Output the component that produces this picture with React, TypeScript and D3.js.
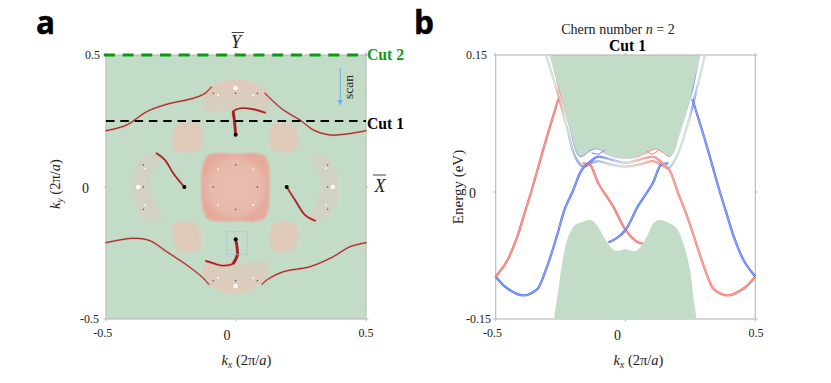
import React from 'react'
import * as d3 from 'd3'

type P = [number, number]

// panel a: contours in (kx, ky)
const topArcLeft: P[] = [[-0.5, 0.2133], [-0.4204, 0.2348], [-0.3435, 0.2852], [-0.2665, 0.3133], [-0.1642, 0.336], [-0.1192, 0.3549], [-0.095, 0.378]]
const topArcRight: P[] = [[0.1115, 0.3549], [0.1308, 0.336], [0.182, 0.2917], [0.2462, 0.2538], [0.2973, 0.2159], [0.3615, 0.197], [0.4258, 0.2008], [0.5, 0.2133]]
const bottomArcLeft: P[] = [[-0.5, -0.211], [-0.395, -0.1943], [-0.3308, -0.2034], [-0.2665, -0.2451], [-0.1896, -0.2955], [-0.1319, -0.3398], [-0.105, -0.368]]
const bottomArcRight: P[] = [[0.1, -0.368], [0.1242, -0.3485], [0.182, -0.3208], [0.2846, -0.3019], [0.3742, -0.264], [0.4385, -0.2261], [0.5, -0.211]]

const fermiTop: P[] = [[-0.0013, 0.198], [-0.0065, 0.2538], [-0.0104, 0.2852], [0.0154, 0.298], [0.0667, 0.2943], [0.1115, 0.2814]]
const fermiTopStem: P[] = [[-0.0013, 0.198], [-0.0065, 0.2538], [-0.0104, 0.2852]]
const fermiBottom: P[] = [[-0.0013, -0.1981], [0.005, -0.2576], [-0.0104, -0.289], [-0.0488, -0.298], [-0.0873, -0.289], [-0.1154, -0.2803]]
const fermiBottomStem: P[] = [[-0.0013, -0.1981], [0.005, -0.2576], [-0.0104, -0.289]]
const fermiLeft: P[] = [[-0.1988, 0], [-0.2412, 0.0519], [-0.2731, 0.1023], [-0.305, 0.1276]]
const fermiRight: P[] = [[0.195, 0], [0.2269, -0.0492], [0.2654, -0.106], [0.3038, -0.1276]]

const capTop: P[] = [[-0.1258, 0.336], [-0.1065, 0.3739], [-0.055, 0.3989], [-0.0013, 0.4053], [0.0538, 0.3989], [0.1051, 0.3739], [0.1308, 0.3295], [0.1181, 0.2792], [0.0538, 0.287], [-0.0013, 0.295], [-0.0615, 0.283], [-0.1127, 0.283]]
const capBottom: P[] = [[-0.1296, -0.3144], [-0.1127, -0.281], [-0.0488, -0.285], [0.0154, -0.287], [0.0667, -0.2805], [0.1181, -0.281], [0.1242, -0.3333], [0.0923, -0.3712], [0.0412, -0.3966], [-0.0013, -0.4053], [-0.0488, -0.3966], [-0.1, -0.3712]]
const crescentLeft: P[] = [[-0.3115, 0.1299], [-0.3565, 0.1148], [-0.3885, 0.0644], [-0.4012, 0], [-0.3819, -0.0746], [-0.3435, -0.1276], [-0.2858, -0.1223], [-0.3115, -0.0617], [-0.3308, 0], [-0.3181, 0.0644], [-0.2858, 0.1148]]
const crescentRight: P[] = [[0.2873, 0.1212], [0.3231, 0.1276], [0.3742, 0.0898], [0.3962, 0], [0.3873, -0.0682], [0.3554, -0.1125], [0.3104, -0.1276], [0.2719, -0.1186], [0.3104, -0.0617], [0.3258, 0], [0.3167, 0.0644]]
const centerPatch: P[] = [[-0.1258, 0.0898], [-0.1065, 0.1212], [-0.0013, 0.1276], [0.1051, 0.1212], [0.1242, 0.0898], [0.128, 0], [0.1242, -0.0871], [0.1051, -0.1223], [-0.0013, -0.1288], [-0.1065, -0.1223], [-0.1258, -0.0871], [-0.1335, 0]]
const squareTL: P[] = [[-0.2281, 0.2348], [-0.1385, 0.2386], [-0.1319, 0.1527], [-0.145, 0.1375], [-0.2281, 0.1337], [-0.2412, 0.1466]]
const squareTR: P[] = [[0.1373, 0.2348], [0.2204, 0.2348], [0.2396, 0.1655], [0.2204, 0.1375], [0.1435, 0.1375], [0.1335, 0.1527]]
const squareBL: P[] = [[-0.2346, -0.1375], [-0.1512, -0.1375], [-0.1346, -0.1883], [-0.1385, -0.2386], [-0.2219, -0.2386], [-0.2435, -0.1883]]
const squareBR: P[] = [[0.1435, -0.1375], [0.2269, -0.1375], [0.2396, -0.1883], [0.2204, -0.2386], [0.1435, -0.2424], [0.1308, -0.1943]]

const weylPoints: P[] = [[-0.0013, 0.198], [-0.0013, -0.1981], [-0.1988, 0], [0.195, 0]]
const whiteDots: P[] = [[-0.0013, 0.3739], [-0.0013, -0.375], [-0.3758, 0], [0.372, 0]]
const tinyBlack: P[] = [[-0.0873, 0], [0.0821, 0], [-0.0013, 0.0833], [-0.0013, -0.0845], [-0.0873, 0.355], [-0.0013, 0.355], [0.0821, 0.355], [-0.0873, -0.355], [-0.0013, -0.355], [0.0821, -0.355], [-0.3565, 0.0833], [-0.3565, 0], [-0.3565, -0.0845], [0.3527, 0.0833], [0.3527, 0], [0.3527, -0.0845]]
const tinyWhite: P[] = [[-0.0704, 0.067], [0.0667, 0.067], [-0.0704, -0.068], [0.0667, -0.068], [-0.0681, 0.3485], [0.0667, 0.3485], [-0.068, -0.3447], [0.0667, -0.3447], [-0.35, 0.0708], [-0.35, -0.068], [0.3462, 0.0708], [0.3462, -0.068]]

// panel b: bands in (kx, E)
const redLeft: P[] = [[-0.5, -0.0998], [-0.4576, -0.0821], [-0.4191, -0.0545], [-0.3871, -0.0232], [-0.3613, 0.0022], [-0.3101, 0.0533], [-0.2588, 0.1018]]
const blueRight: P[] = [[0.2573, 0.1018], [0.3101, 0.0533], [0.3613, 0.0022], [0.3871, -0.0232], [0.4191, -0.0545], [0.4576, -0.0821], [0.5, -0.0998]]
const mainBand: P[] = [[-0.5, -0.0998], [-0.4576, -0.1134], [-0.3937, -0.1222], [-0.3421, -0.1154], [-0.3293, -0.1096], [-0.2974, -0.084], [-0.265, -0.0527], [-0.233, -0.0192], [-0.2011, 0.0022], [-0.1687, 0.0241], [-0.1367, 0.0332], [-0.1048, 0.0387], [-0.055, 0.0355], [0, 0.0321], [0.055, 0.0355], [0.1048, 0.0387], [0.1367, 0.0332], [0.1687, 0.0241], [0.2011, 0.0], [0.2355, -0.027], [0.2662, -0.055], [0.298, -0.0845], [0.3293, -0.1096], [0.3421, -0.1154], [0.3937, -0.1222], [0.4576, -0.1134], [0.5, -0.0998]]
const redCross: P[] = [[-0.165, 0.0314], [-0.1367, 0.0296], [-0.1048, 0.0095], [-0.047, -0.0173], [0, -0.0448], [0.043, -0.0585], [0.0686, -0.0613]]
const blueCross: P[] = [[-0.0663, -0.0597], [-0.0339, -0.0545], [0, -0.0448], [0.047, -0.0173], [0.1048, 0.0095], [0.1367, 0.0296], [0.165, 0.0314]]
const conductionLow: P[] = [[-0.3063, 0.15], [-0.265, 0.1117], [-0.2265, 0.0715], [-0.1945, 0.0387], [-0.1626, 0.0277], [-0.1367, 0.0314], [-0.1048, 0.0339], [-0.0597, 0.0303], [0, 0.0277], [0.0623, 0.0307], [0.107, 0.0339], [0.1395, 0.0296], [0.165, 0.026], [0.197, 0.0387], [0.2292, 0.0643], [0.2677, 0.1044], [0.3063, 0.15]]
const bumpLeft: P[] = [[-0.1303, 0.043], [-0.1048, 0.0416], [-0.079, 0.046]]
const bumpRight: P[] = [[0.0817, 0.0452], [0.1009, 0.0416], [0.1264, 0.0452]]
const upperBulk: P[] = [[-0.2908, 0.15], [-0.2587, 0.1153], [-0.2203, 0.0752], [-0.1753, 0.0387], [-0.1367, 0.0452], [-0.1048, 0.0471], [-0.079, 0.0424], [-0.0405, 0.038], [0, 0.0369], [0.043, 0.038], [0.0817, 0.043], [0.1136, 0.0471], [0.1395, 0.0441], [0.1714, 0.0387], [0.2165, 0.0715], [0.255, 0.108], [0.287, 0.15]]
const lowerBulk: P[] = [[-0.2754, -0.15], [-0.2587, -0.1154], [-0.2396, -0.0762], [-0.2203, -0.0527], [-0.1945, -0.0389], [-0.1626, -0.035], [-0.134, -0.033], [-0.111, -0.0389], [-0.0724, -0.0585], [-0.0405, -0.0691], [0, -0.0675], [0.043, -0.0691], [0.0817, -0.0527], [0.107, -0.0369], [0.13, -0.033], [0.165, -0.0362], [0.197, -0.0428], [0.2227, -0.0604], [0.2485, -0.0919], [0.261, -0.1233], [0.2743, -0.15]]

const kTicks = [-0.5, 0, 0.5]
const kyTicks = [-0.5, 0, 0.5]
const eTicks = [-0.15, 0, 0.15]

const RED = '#ef6a62'
const BLUE = '#4f70f2'
const PALE = '#c6d9ce'
const mainStops: [number, string][] = [[-0.5, BLUE], [-0.1, BLUE], [-0.04, '#a9b8e0'], [0.02, '#cfc9cc'], [0.08, '#ee8880'], [0.5, RED]]
const conductionStops: [number, string][] = [[-0.31, PALE], [-0.27, PALE], [-0.255, '#e98b80'], [-0.23, PALE], [-0.19, '#8fa3e0'], [-0.15, '#6e85ea'], [-0.1, '#9db0e6'], [-0.04, '#c5d0dc'], [0.03, '#d8c8c0'], [0.08, '#ee9a90'], [0.14, '#ee8a80'], [0.175, '#b8c0d8'], [0.2, PALE], [0.245, PALE], [0.26, '#6f8bec'], [0.28, PALE]]

const GREEN = '#c3dcc7'
const AXIS = '#bdbdbd'
const SERIF = '"Liberation Serif", serif'

const xA = d3.scaleLinear().domain([-0.5, 0.5]).range([106, 366])
const yA = d3.scaleLinear().domain([-0.5, 0, 0.5]).range([319, 187, 55])
const xB = d3.scaleLinear().domain([-0.5, 0.5]).range([495.7, 755.3])
const yB = d3.scaleLinear().domain([-0.15, 0, 0.15]).range([319, 192, 55])

const arcLine = d3.line<P>().x(d => xA(d[0])).y(d => yA(d[1])).curve(d3.curveCatmullRom)
const patchLine = d3.line<P>().x(d => xA(d[0])).y(d => yA(d[1])).curve(d3.curveCatmullRomClosed)
const bandLine = d3.line<P>().x(d => xB(d[0])).y(d => yB(d[1])).curve(d3.curveCatmullRom)
const upperArea = d3.area<P>().x(d => xB(d[0])).y0(yB(0.15)).y1(d => yB(d[1])).curve(d3.curveCatmullRom)
const lowerArea = d3.area<P>().x(d => xB(d[0])).y0(yB(-0.15)).y1(d => yB(d[1])).curve(d3.curveCatmullRom)

const Gradient = ({ id, stops }: { id: string; stops: [number, string][] }) => (
  <linearGradient id={id} gradientUnits="userSpaceOnUse" x1={xB(-0.5)} x2={xB(0.5)} y1={0} y2={0}>
    {stops.map(([k, c], i) => <stop key={i} offset={k + 0.5} stopColor={c} />)}
  </linearGradient>
)

// paired strands: a coloured line with a pale core
const Band = ({ pts, stroke }: { pts: P[]; stroke: string }) => (
  <g fill="none">
    <path d={bandLine(pts)!} stroke={stroke} strokeWidth={2.3} />
    <path d={bandLine(pts)!} stroke="#fff" strokeOpacity={0.7} strokeWidth={0.6} />
  </g>
)

const Arc = ({ pts, w = 1 }: { pts: P[]; w?: number }) => (
  <g fill="none" strokeLinecap="round">
    <path d={arcLine(pts)!} stroke="#dd5a4c" strokeOpacity={0.55} strokeWidth={w + 1} />
    <path d={arcLine(pts)!} stroke="#9e1c22" strokeWidth={w} />
  </g>
)

const Frame = ({ x, y, yTicks, xPos, yLeft }: { x: any; y: any; yTicks: number[]; xPos: number[]; yLeft: number[] }) => {
  const [x0, x1] = x.range()
  const y0 = y(y.domain()[0])
  const y1 = y(y.domain()[2])
  return (
    <g>
      <rect x={x0} y={y1} width={x1 - x0} height={y0 - y1} fill="none" stroke={AXIS} strokeWidth={1.2} />
      {kTicks.map((t, i) => (
        <g key={t}>
          <line x1={x(t)} x2={x(t)} y1={y0} y2={y0 + 2.5} stroke={AXIS} />
          <line x1={x(t)} x2={x(t)} y1={y1} y2={y1 - 2.5} stroke={AXIS} />
          <text x={xPos[i]} y={t === 0 ? y0 + 20.5 : y0 + 18} textAnchor="middle" fontSize={t === 0 ? 14 : 12}>
            {t === 0 ? '0' : String(t)}
          </text>
        </g>
      ))}
      {yTicks.map((t, i) => (
        <g key={t}>
          <line x1={x0 - 2.5} x2={x0} y1={y(t)} y2={y(t)} stroke={AXIS} />
          <line x1={x1} x2={x1 + 2.5} y1={y(t)} y2={y(t)} stroke={AXIS} />
          <text x={yLeft[i]} y={y(t) + (t === 0 ? 6 : 4)} fontSize={t === 0 ? 14 : 12}>{String(t)}</text>
        </g>
      ))}
    </g>
  )
}

const KxLabel = ({ x }: { x: number }) => (
  <text x={x} y={365} textAnchor="middle" fontSize={14.5}>
    <tspan fontStyle="italic">k</tspan>
    <tspan fontStyle="italic" fontSize={9.5} dy={3}>x</tspan>
    <tspan dy={-3}> (2π/</tspan>
    <tspan fontStyle="italic">a</tspan>
    <tspan>)</tspan>
  </text>
)

export default function App() {
  const patches = [squareTL, squareTR, squareBL, squareBR]
  return (
    <svg width={831} height={383} style={{ position: 'absolute', left: 0, top: 0, background: '#fff' }} fontFamily={SERIF} fill="#222">
      <defs>
        <filter id="soft" x="-10%" y="-10%" width="120%" height="120%"><feGaussianBlur stdDeviation={1.2} /></filter>
        <filter id="softer" x="-10%" y="-10%" width="120%" height="120%"><feGaussianBlur stdDeviation={0.35} /></filter>
        <radialGradient id="centerFill">
          <stop offset="0%" stopColor="#e6bdb0" />
          <stop offset="75%" stopColor="#e7b9aa" />
          <stop offset="100%" stopColor="#e6a99a" />
        </radialGradient>
        <linearGradient id="capTopFill" x1="0" x2="0" y1="0" y2="1">
          <stop offset="0%" stopColor="#e3c9b9" />
          <stop offset="100%" stopColor="#d3d0bf" />
        </linearGradient>
        <linearGradient id="capBottomFill" x1="0" x2="0" y1="1" y2="0">
          <stop offset="0%" stopColor="#e3c9b9" />
          <stop offset="100%" stopColor="#d3d0bf" />
        </linearGradient>
        <Gradient id="mainGrad" stops={mainStops} />
        <Gradient id="condGrad" stops={conductionStops} />
      </defs>

      <text x={36} y={34} fontFamily='"Open Sans", sans-serif' fontWeight={700} fontSize={31.5} stroke="#000" strokeWidth={0.5} fill="#000">a</text>
      <text x={414} y={34} fontFamily='"Open Sans", sans-serif' fontWeight={700} fontSize={31.5} stroke="#000" strokeWidth={0.5} fill="#000">b</text>

      {/* panel a */}
      <rect x={xA(-0.5)} y={yA(0.5)} width={xA(0.5) - xA(-0.5)} height={yA(-0.5) - yA(0.5)} fill={GREEN} />
      <g filter="url(#soft)">
        <path d={patchLine(centerPatch)!} fill="url(#centerFill)" />
        {patches.map((p, i) => <path key={i} d={patchLine(p)!} fill="#dfcaba" />)}
        <path d={patchLine(capTop)!} fill="url(#capTopFill)" />
        <path d={patchLine(capBottom)!} fill="url(#capBottomFill)" />
        <path d={patchLine(crescentLeft)!} fill="#d2d2c2" />
        <path d={patchLine(crescentRight)!} fill="#d2d2c2" />
      </g>
      <Frame x={xA} y={yA} yTicks={kyTicks} xPos={[102.7, 227, 366]} yLeft={[80, 82, 85]} />
      <g filter="url(#softer)">
        <Arc pts={topArcLeft} />
        <Arc pts={topArcRight} />
        <Arc pts={bottomArcLeft} />
        <Arc pts={bottomArcRight} />
        <Arc pts={fermiTop} w={1.4} />
        <Arc pts={fermiTopStem} w={2.4} />
        <Arc pts={fermiBottom} w={1.4} />
        <Arc pts={fermiBottomStem} w={2.4} />
        <Arc pts={fermiLeft} w={1.4} />
        <Arc pts={fermiRight} w={1.4} />
      </g>
      {tinyBlack.map(([k, v], i) => <circle key={i} cx={xA(k)} cy={yA(v)} r={0.7} fill="#444" />)}
      {tinyWhite.map(([k, v], i) => <circle key={i} cx={xA(k)} cy={yA(v)} r={0.9} fill="#fff" />)}
      {whiteDots.map(([k, v], i) => <circle key={i} cx={xA(k)} cy={yA(v)} r={2.2} fill="#fff" />)}
      {weylPoints.map(([k, v], i) => <circle key={i} cx={xA(k)} cy={yA(v)} r={2} fill="#000" />)}

      <rect x={xA(-0.0358)} y={yA(-0.169)} width={xA(0.0435) - xA(-0.0358)} height={yA(-0.255) - yA(-0.169)} fill="none" stroke="#9cc3e8" strokeDasharray="2 1.5" />
      <line x1={xA(-0.5)} x2={xA(0.5)} y1={yA(0.25)} y2={yA(0.25)} stroke="#000" strokeWidth={1.8} strokeDasharray="8.5 5.8" />
      <line x1={xA(-0.508)} x2={xA(0.5)} y1={yA(0.5)} y2={yA(0.5)} stroke="#0c9a16" strokeWidth={3} strokeDasharray="11 7.7" />

      <line x1={340.3} x2={340.3} y1={68} y2={102} stroke="#6fb0e0" />
      <path d="M337.6 100 L343 100 L340.3 105.5 Z" fill="#6fb0e0" />
      <text transform="translate(353,87) rotate(-90)" textAnchor="middle" fontSize={13.5}>scan</text>

      <text x={367} y={59.5} fontWeight={700} fontSize={15.7} fill="#0c9a16">Cut 2</text>
      <text x={367} y={129} fontWeight={700} fontSize={15.7} fill="#000">Cut 1</text>
      <text x={236} y={48} textAnchor="middle" fontStyle="italic" fontSize={18}>Y</text>
      <line x1={231.7} x2={244} y1={32.5} y2={32.5} stroke="#444" />
      <text x={380} y={192} textAnchor="middle" fontStyle="italic" fontSize={18}>X</text>
      <line x1={373} x2={386} y1={175} y2={175} stroke="#444" />

      <KxLabel x={246.5} />
      <text transform="translate(60,184) rotate(-90)" textAnchor="middle" fontSize={14.5}>
        <tspan fontStyle="italic">k</tspan>
        <tspan fontStyle="italic" fontSize={9.5} dy={3}>y</tspan>
        <tspan dy={-3}> (2π/</tspan>
        <tspan fontStyle="italic">a</tspan>
        <tspan>)</tspan>
      </text>

      {/* panel b */}
      <path d={upperArea(upperBulk)!} fill={GREEN} />
      <Frame x={xB} y={yB} yTicks={eTicks} xPos={[492.5, 617.5, 756]} yLeft={[466, 469, 466]} />
      <g filter="url(#softer)">
        <Band pts={conductionLow} stroke="url(#condGrad)" />
        <path d={bandLine(upperBulk)!} fill="none" stroke="url(#condGrad)" strokeWidth={1} />
        <Band pts={redCross} stroke={RED} />
        <Band pts={blueCross} stroke={BLUE} />
        <Band pts={mainBand} stroke="url(#mainGrad)" />
        <Band pts={redLeft} stroke={RED} />
        <Band pts={blueRight} stroke={BLUE} />
        <path d={bandLine(bumpLeft)!} fill="none" stroke={BLUE} />
        <path d={bandLine(bumpRight)!} fill="none" stroke={RED} />
      </g>
      <path d={lowerArea(lowerBulk)!} fill={GREEN} />

      <text x={618} y={33.5} textAnchor="middle" fontSize={14.1}>
        Chern number <tspan fontStyle="italic">n</tspan> = 2
      </text>
      <text x={627.5} y={51} textAnchor="middle" fontWeight={700} fontSize={15.7} fill="#000">Cut 1</text>
      <text transform="translate(463,187) rotate(-90)" textAnchor="middle" fontSize={15}>Energy (eV)</text>
      <KxLabel x={638.5} />
    </svg>
  )
}
